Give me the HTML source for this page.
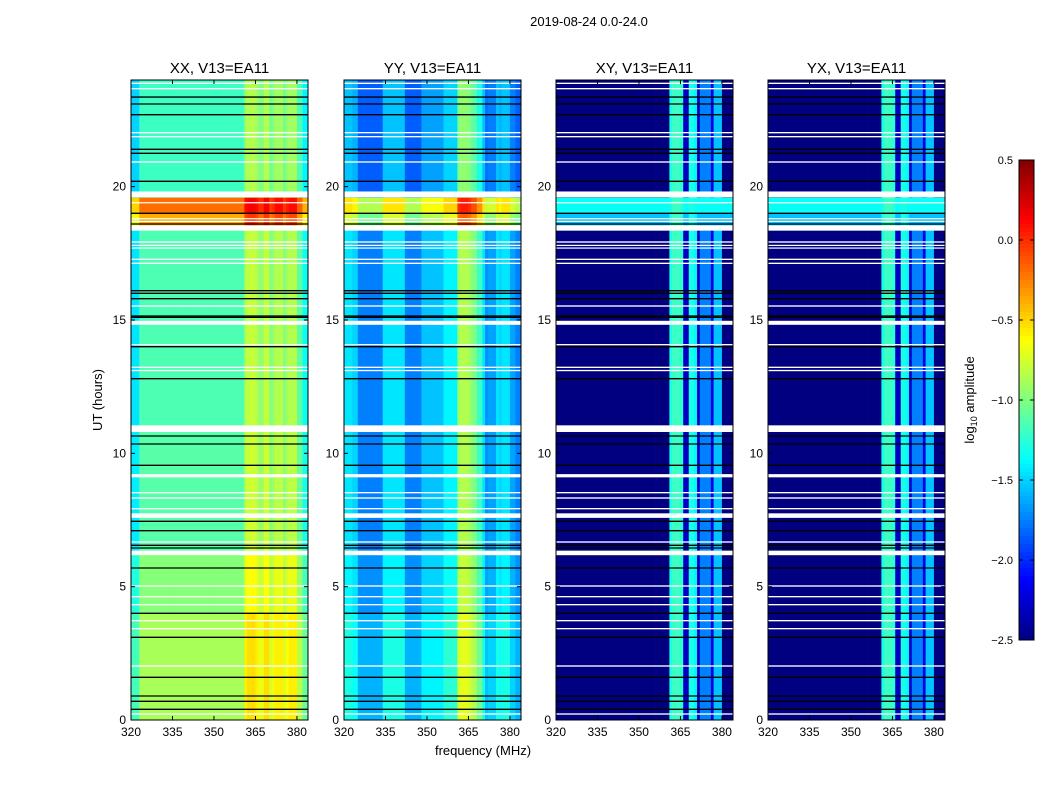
<!DOCTYPE html>
<html><head><meta charset="utf-8">
<style>
body{margin:0;background:#fff;}
svg text{font-family:"Liberation Sans",sans-serif;}
</style></head>
<body>
<svg id="fig" width="1050" height="800" xmlns="http://www.w3.org/2000/svg">
<rect width="1050" height="800" fill="#fff"/>
<text x="589" y="26" font-size="13" text-anchor="middle">2019-08-24 0.0-24.0</text>
<text x="483" y="755" font-size="13" text-anchor="middle">frequency (MHz)</text>
<text transform="translate(102,400) rotate(-90)" font-size="13" text-anchor="middle">UT (hours)</text>
<text transform="translate(974,400) rotate(-90)" font-size="13" text-anchor="middle">log<tspan font-size="9" dy="3">10</tspan><tspan dy="-3"> amplitude</tspan></text>
</svg>
<script>
// ---- data ----
const panelTitles = ["XX, V13=EA11","YY, V13=EA11","XY, V13=EA11","YX, V13=EA11"];
const xTicks = [320,335,350,365,380];
const yTicks = [0,5,10,15,20];
const cbTicks = [0.5,0.0,-0.5,-1.0,-1.5,-2.0,-2.5];
const cbLabels = ["0.5","0.0","\u22120.5","\u22121.0","\u22121.5","\u22122.0","\u22122.5"];
const combineMode = ["sum","sum","max","max"];
// time segments (hours) and per-panel levels
const hourEdges = [0,4,6.3,11,15,18.55,19.0,19.6,24];
const levelXX = [-0.88,-0.98,-1.12,-1.15,-1.15,-0.38,-0.2,-1.2];
const levelYY = [-1.3,-1.4,-1.45,-1.45,-1.45,-0.75,-0.55,-1.55];
const levelXY = [-2.6,-2.6,-2.6,-2.6,-2.6,-1.55,-1.35,-2.6];
const levelYX = [-2.6,-2.6,-2.6,-2.6,-2.6,-1.55,-1.35,-2.6];
// frequency segments (MHz) and per-panel offsets
const freqEdges = [320,323,325,334,336,342,348,356,361,362,365,366,368,370,371,372,375,376,377,380,382,384];
const offXX = [-0.3,0,0,0,0,0,0,0,0.3,0.35,0.3,0.2,0.35,0.15,0.2,0.3,0.15,0.25,0.3,0.05,-0.2];
const offYY = [0.0,-0.05,-0.3,0.0,0.0,-0.3,-0.1,0.05,0.55,0.6,0.55,0.45,0.25,0.0,-0.25,-0.2,0.0,-0.05,0.0,-0.2,-0.3];
const offXY = [-2.6,-2.6,-2.6,-2.6,-2.6,-2.6,-2.6,-2.6,-1.3,-1.2,-1.25,-2.3,-1.3,-1.4,-2.3,-1.75,-1.75,-2.2,-1.55,-2.6,-2.6];
const offYX = [-2.6,-2.6,-2.6,-2.6,-2.6,-2.6,-2.6,-2.6,-1.3,-1.2,-1.25,-2.3,-1.3,-1.4,-2.3,-1.75,-1.75,-2.2,-1.55,-2.6,-2.6];
// flagged (white) time ranges and black line times
const whiteStart = [23.85,23.65,22.0,21.85,20.9,19.6,19.38,18.78,18.68,18.35,17.9,17.78,17.68,17.25,17.1,15.5,14.82,14.05,13.2,13.08,10.8,9.1,8.5,8.3,7.9,7.58,6.65,6.18,5.0,4.6,4.3,3.7,3.4,2.0,0.2];
const whiteEnd   = [23.9,23.7,22.05,21.9,20.95,19.82,19.42,18.82,18.72,18.55,17.95,17.82,17.72,17.3,17.15,15.55,14.97,14.1,13.25,13.13,11.05,9.22,8.55,8.35,7.95,7.75,6.7,6.35,5.05,4.65,4.35,3.75,3.45,2.05,0.25];
const blackLines = [23.36,23.1,22.7,21.4,21.25,20.2,19.0,18.6,16.1,16.0,15.8,15.15,15.1,14.0,12.8,10.65,10.35,9.55,7.45,7.1,6.55,6.45,5.7,4.0,3.1,1.6,0.9,0.7,0.4];

const panelLevels = [levelXX,levelYY,levelXY,levelYX];
const panelOffsets = [offXX,offYY,offXY,offYX];
const panelX = [131,344,556,768], PW=177, PT=80, PH=640;
const fMin=320,fMax=384,tMin=0,tMax=24,vMin=-2.5,vMax=0.5;
const NS="http://www.w3.org/2000/svg";
const svg=document.getElementById('fig');
function mk(tag,attrs,parent){const e=document.createElementNS(NS,tag);for(const k in attrs)e.setAttribute(k,attrs[k]);(parent||svg).appendChild(e);return e;}
function jet(v){let t=(v-vMin)/(vMax-vMin);t=Math.max(0,Math.min(1,t));
 const c=x=>Math.round(255*Math.max(0,Math.min(1,x)));
 return `rgb(${c(1.5-Math.abs(4*t-3))},${c(1.5-Math.abs(4*t-2))},${c(1.5-Math.abs(4*t-1))})`;}

panelTitles.forEach((title,p)=>{
  const x0=panelX[p];
  const xs=f=>x0+(f-fMin)/(fMax-fMin)*PW;
  const ys=h=>PT+PH-(h-tMin)/(tMax-tMin)*PH;
  const g=mk('g',{});
  
  
  const lv=panelLevels[p], of=panelOffsets[p];
  for(let i=0;i<lv.length;i++){
    for(let j=0;j<of.length;j++){
      const val = combineMode[p]==="sum" ? lv[i]+of[j] : Math.max(lv[i],of[j]);
      const r=mk('rect',{x:xs(freqEdges[j]),y:ys(hourEdges[i+1]),width:xs(freqEdges[j+1])-xs(freqEdges[j])+0.3,height:ys(hourEdges[i])-ys(hourEdges[i+1])+0.3,fill:jet(val)},g);
      
      
    }
  }
  whiteStart.forEach((s,k)=>{
    const r=mk('rect',{x:x0,y:ys(whiteEnd[k]),width:PW,height:Math.max(1.2,ys(s)-ys(whiteEnd[k])),fill:'#fff'},g);
    
    
  });
  blackLines.forEach(h=>{
    const l=mk('line',{x1:x0,x2:x0+PW,y1:ys(h),y2:ys(h),stroke:'#000','stroke-width':1.3},g);
    
    
  });
  const fr=mk('rect',{x:x0,y:PT,width:PW,height:PH,fill:'none',stroke:'#000','stroke-width':1},g);
  
  
  xTicks.forEach(t=>{
    const x=xs(t);
    mk('line',{x1:x,x2:x,y1:PT+PH,y2:PT+PH-4,stroke:'#000'},g);
    mk('line',{x1:x,x2:x,y1:PT,y2:PT+4,stroke:'#000'},g);
    const tx=mk('text',{x:x,y:PT+PH+16,'font-size':12,'text-anchor':'middle'},g);
    tx.textContent=t;
    
    
  });
  yTicks.forEach(t=>{
    const y=ys(t);
    mk('line',{x1:x0,x2:x0+4,y1:y,y2:y,stroke:'#000'},g);
    mk('line',{x1:x0+PW,x2:x0+PW-4,y1:y,y2:y,stroke:'#000'},g);
    const tx=mk('text',{x:x0-5,y:y+4,'font-size':12,'text-anchor':'end'},g);
    tx.textContent=t;
    
    
  });
  const tt=mk('text',{x:x0+PW/2,y:73,'font-size':15,'text-anchor':'middle'},g);
  tt.textContent=title;
  
  
});

// colorbar
const cbX=1019,cbW=15,cbT=160,cbH=480;
const cb=mk('g',{});


for(let i=0;i<120;i++){
  const v=vMax-(i+0.5)/120*(vMax-vMin);
  mk('rect',{x:cbX,y:cbT+i*cbH/120,width:cbW,height:cbH/120+0.5,fill:jet(v)},cb);
}
mk('rect',{x:cbX,y:cbT,width:cbW,height:cbH,fill:'none',stroke:'#000'},cb);
cbTicks.forEach((v,k)=>{
  const y=cbT+(vMax-v)/(vMax-vMin)*cbH;
  mk('line',{x1:cbX+cbW,x2:cbX+cbW-4,y1:y,y2:y,stroke:'#000'},cb);
  mk('line',{x1:cbX,x2:cbX+4,y1:y,y2:y,stroke:'#000'},cb);
  const tx=mk('text',{x:cbX-6,y:y+4,'font-size':11,'text-anchor':'end'},cb);
  tx.textContent=cbLabels[k];
  
  
});
</script>
</body></html>
